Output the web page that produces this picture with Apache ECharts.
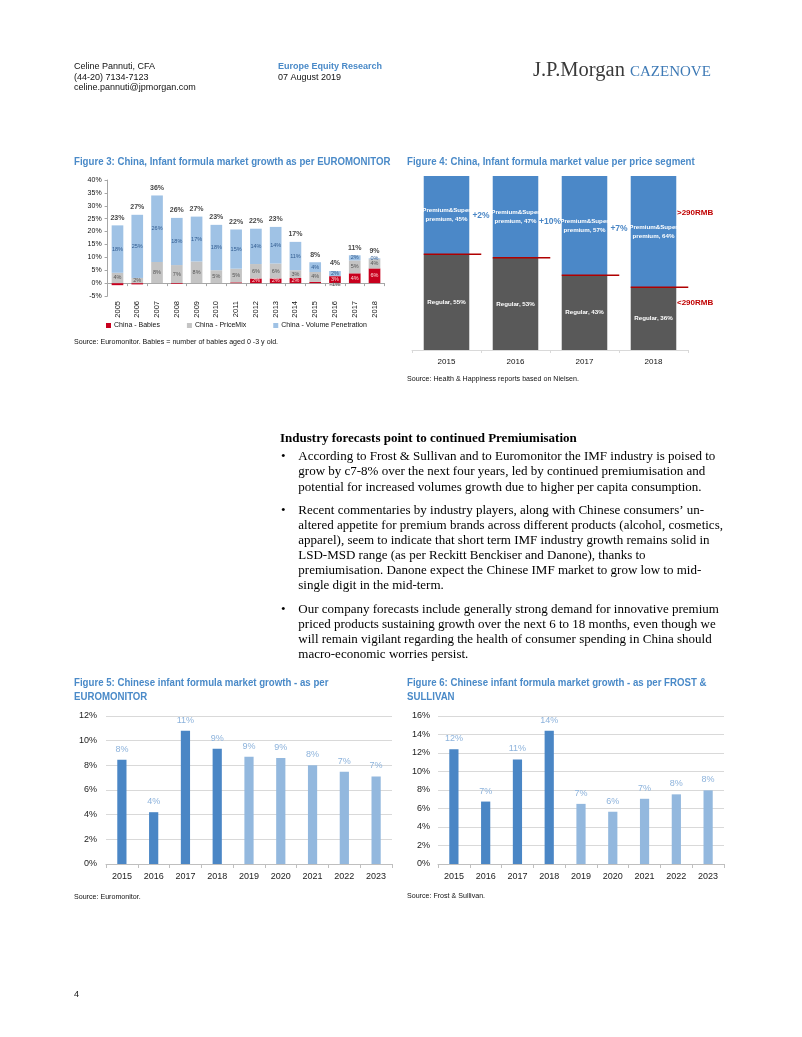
<!DOCTYPE html>
<html><head><meta charset="utf-8">
<script src="https://cdn.jsdelivr.net/npm/echarts@6/dist/echarts.min.js"></script>
<style>html,body{margin:0;padding:0;background:#fff}#c{width:802px;height:1037px}</style>
</head><body><div id="c"></div>
<script>
// ---------- DATA ----------
// Figure 3 (Euromonitor growth decomposition, % points)
const fig3Years = ['2005','2006','2007','2008','2009','2010','2011','2012','2013','2014','2015','2016','2017','2018'];
const fig3Babies = [-0.8,-0.5,0,-0.3,0,0,0.3,1.8,1.8,2.0,0.5,2.7,3.8,5.7];
const fig3PriceMix = [4.0,2.0,8.2,7.0,8.4,5.0,5.3,5.6,5.8,3.0,3.8,-1.0,5.0,3.6];
const fig3Volume = [18.4,24.5,25.8,18.3,17.4,17.6,15.2,13.7,14.2,11.0,3.8,2.0,2.0,0.3];
const fig3Totals = [23,27,36,26,27,23,22,22,23,17,8,4,11,9];
const fig3YTicks = [-5,40,5];

// Figure 4 (value share per price segment, %)
const fig4Years = ['2015','2016','2017','2018'];
const fig4Regular = [55,53,43,36];
const fig4Premium = [45,47,57,64];
const fig4Growth = ['+2%','+10%','+7%'];

// Figure 5 (Euromonitor market growth, %)
const fig5Years = ['2015','2016','2017','2018','2019','2020','2021','2022','2023'];
const fig5Growth = [8.45,4.2,10.8,9.35,8.7,8.6,8.0,7.48,7.1];
const fig5ActualCount = 4;

// Figure 6 (Frost & Sullivan market growth, %)
const fig6Years = ['2015','2016','2017','2018','2019','2020','2021','2022','2023'];
const fig6Growth = [12.4,6.75,11.3,14.4,6.5,5.65,7.05,7.53,7.96];
const fig6ActualCount = 4;

// ---------- STYLE ----------
const SANS = '"Liberation Sans", Arial, sans-serif';
const SERIF = '"Liberation Serif", "Times New Roman", serif';
const TITLE_BLUE = '#4a8ac8';
const DARK_BLUE = '#4a86c5';
const LIGHT_BLUE = '#93b8de';

function txt(x, y, text, font, fill, opt) {
  opt = opt || {};
  return {
    type: 'text', x: x, y: y, scaleX: opt.sx || 1, silent: true,
    style: {
      text: text, font: font, fill: fill || '#000',
      textAlign: opt.align || 'left', align: opt.align || 'left',
      textVerticalAlign: 'middle', verticalAlign: 'middle'
    }
  };
}

const graphics = [];
// header
graphics.push(txt(74, 67, 'Celine Pannuti, CFA', '9px ' + SANS, '#111'));
graphics.push(txt(74, 77.5, '(44-20) 7134-7123', '9px ' + SANS, '#111'));
graphics.push(txt(74, 88, 'celine.pannuti@jpmorgan.com', '9px ' + SANS, '#111'));
graphics.push(txt(278, 67, 'Europe Equity Research', 'bold 9px ' + SANS, TITLE_BLUE));
graphics.push(txt(278, 77.5, '07 August 2019', '9px ' + SANS, '#111'));
graphics.push(txt(533, 71, 'J.P.Morgan', '20.5px ' + SERIF, '#3a3a3a'));
graphics.push({type:'text', x:630, y:72, silent:true, style:{text:'CAZENOVE', font:'15px ' + SERIF, fill:'#3d79b5', textVerticalAlign:'middle', verticalAlign:'middle', letterSpacing:1.4}});

// figure titles
const TF = 'bold 10.5px ' + SANS;
const TSX = 0.92;
graphics.push(txt(74, 162.5, 'Figure 3: China, Infant formula market growth as per EUROMONITOR', TF, TITLE_BLUE, {sx:TSX}));
graphics.push(txt(407, 162.5, 'Figure 4: China, Infant formula market value per price segment', TF, TITLE_BLUE, {sx:TSX}));
graphics.push(txt(74, 683.5, 'Figure 5: Chinese infant formula market growth - as per', TF, TITLE_BLUE, {sx:TSX}));
graphics.push(txt(74, 697.5, 'EUROMONITOR', TF, TITLE_BLUE, {sx:TSX}));
graphics.push(txt(407, 683.5, 'Figure 6: Chinese infant formula market growth - as per FROST &', TF, TITLE_BLUE, {sx:TSX}));
graphics.push(txt(407, 697.5, 'SULLIVAN', TF, TITLE_BLUE, {sx:TSX}));

// sources
const SF = '7.1px ' + SANS;
graphics.push(txt(74, 342, 'Source: Euromonitor. Babies = number of babies aged 0 -3 y old.', SF, '#111'));
graphics.push(txt(407, 379.5, 'Source: Health & Happiness reports based on Nielsen.', SF, '#111'));
graphics.push(txt(74, 897, 'Source: Euromonitor.', SF, '#111'));
graphics.push(txt(407, 896, 'Source: Frost & Sullivan.', SF, '#111'));

// RMB annotations (fig 4)
graphics.push(txt(677, 213, '>290RMB', 'bold 8px ' + SANS, '#c00000'));
graphics.push(txt(677, 303, '<290RMB', 'bold 8px ' + SANS, '#c00000'));

// body text
const BF = '13px ' + SERIF;
graphics.push(txt(280, 438.3, 'Industry forecasts point to continued Premiumisation', 'bold 13px ' + SERIF, '#000'));
const paras = [
  {y: 456.8, lines: ['According to Frost & Sullivan and to Euromonitor the IMF industry is poised to',
    'grow by c7-8% over the next four years, led by continued premiumisation and',
    'potential for increased volumes growth due to higher per capita consumption.']},
  {y: 510.3, lines: ['Recent commentaries by industry players, along with Chinese consumers\u2019 un-',
    'altered appetite for premium brands across different products (alcohol, cosmetics,',
    'apparel), seem to indicate that short term IMF industry growth remains solid in',
    'LSD-MSD range (as per Reckitt Benckiser and Danone), thanks to',
    'premiumisation. Danone expect the Chinese IMF market to grow low to mid-',
    'single digit in the mid-term.']},
  {y: 609.3, lines: ['Our company forecasts include generally strong demand for innovative premium',
    'priced products sustaining growth over the next 6 to 18 months, even though we',
    'will remain vigilant regarding the health of consumer spending in China should',
    'macro-economic worries persist.']}
];
paras.forEach(p => {
  graphics.push(txt(281, p.y, '\u2022', BF, '#000'));
  p.lines.forEach((l, i) => graphics.push(txt(298.3, p.y + i * 15.15, l, BF, '#000')));
});
graphics.push(txt(74, 995, '4', '9px ' + SANS, '#111'));

// ---------- CHART ----------
const chart = echarts.init(document.getElementById('c'), null, {renderer: 'canvas'});
const fig3Tops = fig3Babies.map((b, i) => Math.max(0, b) + Math.max(0, fig3PriceMix[i]) + Math.max(0, fig3Volume[i]));
const pct = v => Math.round(v) + '%';

function growthBars(data, actual, xi) {
  return {
    type: 'bar', xAxisIndex: xi, yAxisIndex: xi, barWidth: '29%',
    data: data.map((v, i) => ({value: v, itemStyle: {color: i < actual ? DARK_BLUE : LIGHT_BLUE}})),
    label: {show: true, position: 'top', distance: 6, color: '#8db3dc', fontSize: 9,
      formatter: p => pct(p.value)}
  };
}

const option = {
  animation: false,
  textStyle: {fontFamily: SANS},
  graphic: graphics,
  grid: [
    {left: 107.6, right: 802 - 384.4, top: 180, bottom: 1037 - 296},
    {left: 412, right: 802 - 688, top: 176, bottom: 1037 - 350},
    {left: 106, right: 802 - 392, top: 716, bottom: 1037 - 864},
    {left: 438, right: 802 - 724, top: 716, bottom: 1037 - 864}
  ],
  legend: {
    data: ['China - Babies', 'China - PriceMix', 'China - Volume Penetration'],
    left: 101, top: 317, itemWidth: 5, itemHeight: 5, itemGap: 27, icon: 'rect',
    textStyle: {fontSize: 7, color: '#111', padding: [0,0,0,-2]}
  },
  xAxis: [
    {gridIndex: 0, type: 'category', data: fig3Years,
      axisLine: {onZero: true, lineStyle: {color: '#a6a6a6'}},
      axisTick: {show: true, length: 3, lineStyle: {color: '#a6a6a6'}},
      axisLabel: {rotate: 90, fontSize: 7.5, color: '#111', margin: 5}},
    {gridIndex: 1, type: 'category', data: fig4Years,
      axisLine: {lineStyle: {color: '#d9d9d9'}},
      axisTick: {show: true, length: 3, lineStyle: {color: '#d9d9d9'}},
      axisLabel: {fontSize: 8, color: '#111', margin: 8}},
    {gridIndex: 2, type: 'category', data: fig5Years,
      axisLine: {lineStyle: {color: '#bfbfbf'}},
      axisTick: {show: true, length: 4, lineStyle: {color: '#bfbfbf'}},
      axisLabel: {fontSize: 9, color: '#222', margin: 8}},
    {gridIndex: 3, type: 'category', data: fig6Years,
      axisLine: {lineStyle: {color: '#bfbfbf'}},
      axisTick: {show: true, length: 4, lineStyle: {color: '#bfbfbf'}},
      axisLabel: {fontSize: 9, color: '#222', margin: 8}}
  ],
  yAxis: [
    {gridIndex: 0, type: 'value', min: fig3YTicks[0], max: fig3YTicks[1], interval: fig3YTicks[2],
      axisLine: {show: true, lineStyle: {color: '#a6a6a6'}},
      axisTick: {show: true, length: 3, lineStyle: {color: '#a6a6a6'}},
      splitLine: {show: false},
      axisLabel: {formatter: '{value}%', fontSize: 7, color: '#111', margin: 6}},
    {gridIndex: 1, type: 'value', min: 0, max: 100, show: false, splitLine: {show: false}},
    {gridIndex: 2, type: 'value', min: 0, max: 12, interval: 2,
      axisLine: {show: false}, axisTick: {show: false},
      splitLine: {lineStyle: {color: '#d9d9d9'}},
      axisLabel: {formatter: '{value}%', fontSize: 9, color: '#222', margin: 9}},
    {gridIndex: 3, type: 'value', min: 0, max: 16, interval: 2,
      axisLine: {show: false}, axisTick: {show: false},
      splitLine: {lineStyle: {color: '#d9d9d9'}},
      axisLabel: {formatter: '{value}%', fontSize: 9, color: '#222', margin: 8}}
  ],
  series: [
    // Figure 3
    {name: 'China - Babies', type: 'bar', stack: 'f3', xAxisIndex: 0, yAxisIndex: 0, barWidth: '59%',
      data: fig3Babies, itemStyle: {color: '#c8001e'},
      label: {show: true, position: 'inside', fontSize: 5.5, color: '#ffd6d6',
        formatter: p => Math.abs(p.value) >= 1 ? pct(p.value) : ''}},
    {name: 'China - PriceMix', type: 'bar', stack: 'f3', xAxisIndex: 0, yAxisIndex: 0, barWidth: '59%',
      data: fig3PriceMix, itemStyle: {color: '#c4c4c4'},
      label: {show: true, position: 'inside', fontSize: 5.5, color: '#555', formatter: p => pct(p.value)}},
    {name: 'China - Volume Penetration', type: 'bar', stack: 'f3', xAxisIndex: 0, yAxisIndex: 0, barWidth: '59%',
      data: fig3Volume, itemStyle: {color: '#9fc2e5'},
      label: {show: true, position: 'inside', fontSize: 5.5, color: '#2f5a8f', formatter: p => pct(p.value)}},
    {type: 'scatter', xAxisIndex: 0, yAxisIndex: 0, symbolSize: 0, silent: true,
      data: fig3Tops,
      label: {show: true, position: 'top', distance: 4, fontSize: 7, fontWeight: 'bold', color: '#111',
        formatter: p => fig3Totals[p.dataIndex] + '%'}},
    // Figure 4
    {name: 'Regular', type: 'bar', stack: 'f4', xAxisIndex: 1, yAxisIndex: 1, barWidth: '66%',
      data: fig4Regular, itemStyle: {color: '#595959'},
      label: {show: true, position: 'inside', fontSize: 6.2, fontWeight: 'bold', color: '#fff',
        formatter: p => 'Regular, ' + p.value + '%'}},
    {name: 'Premium', type: 'bar', stack: 'f4', xAxisIndex: 1, yAxisIndex: 1, barWidth: '66%',
      data: fig4Premium, itemStyle: {color: '#4b88c8'},
      label: {show: true, position: 'inside', fontSize: 6.2, fontWeight: 'bold', color: '#fff', lineHeight: 9,
        formatter: p => 'Premium&Super\npremium, ' + p.value + '%'}},
    {type: 'custom', xAxisIndex: 1, yAxisIndex: 1, silent: true, z: 5,
      data: fig4Regular.map((v, i) => [i, v]),
      renderItem: (params, api) => {
        const p = api.coord([api.value(0), api.value(1)]);
        const half = api.size([1, 0])[0] * 0.33;
        return {type: 'line', shape: {x1: p[0] - half, y1: p[1], x2: p[0] + half + 12, y2: p[1]},
          style: {stroke: '#b00000', lineWidth: 1.5}};
      }},
    {type: 'custom', xAxisIndex: 1, yAxisIndex: 1, silent: true, z: 5,
      data: fig4Growth.map((g, i) => [i, 100 - (fig4Premium[i] + fig4Premium[i + 1]) / 4]),
      renderItem: (params, api) => {
        const i = api.value(0);
        const a = api.coord([i, api.value(1)]);
        const b = api.coord([i + 1, api.value(1)]);
        return {type: 'text', x: (a[0] + b[0]) / 2, y: a[1],
          style: {text: fig4Growth[params.dataIndex], fill: '#4a86c5', font: 'bold 8.5px ' + SANS,
            align: 'center', verticalAlign: 'middle'}};
      }},
    // Figure 5 & 6
    growthBars(fig5Growth, fig5ActualCount, 2),
    growthBars(fig6Growth, fig6ActualCount, 3)
  ]
};
chart.setOption(option);
</script>
</body></html>
